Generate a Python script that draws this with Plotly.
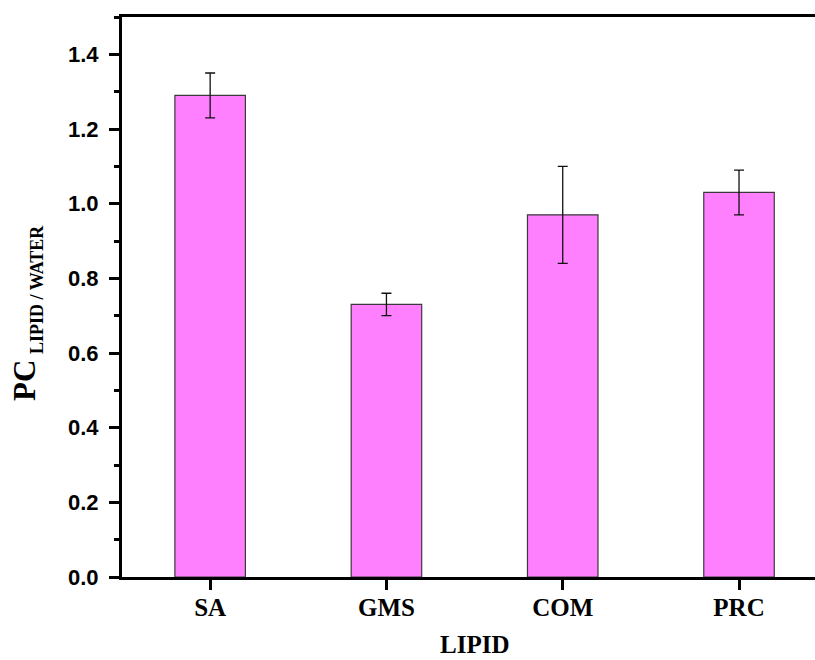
import plotly.graph_objects as go

# Partition coefficient of the drug between each lipid and water
lipids = ["SA", "GMS", "COM", "PRC"]
pc_values = [1.29, 0.73, 0.97, 1.03]
pc_errors = [0.06, 0.03, 0.13, 0.06]

y_tick_vals = [0.0, 0.2, 0.4, 0.6, 0.8, 1.0, 1.2, 1.4]

serif = "Liberation Serif, Times New Roman, serif"
sans = "Liberation Sans, Arial, sans-serif"

fig = go.Figure(
    go.Bar(
        x=lipids,
        y=pc_values,
        width=0.4,
        marker=dict(color="#FF80FF", line=dict(color="#3a3a3a", width=1.2)),
        error_y=dict(type="data", array=pc_errors, visible=True,
                     color="#111111", thickness=1.3, width=5),
    )
)

fig.update_layout(
    width=815,
    height=660,
    margin=dict(l=122, r=0, t=17, b=83),
    paper_bgcolor="white",
    plot_bgcolor="white",
    showlegend=False,
    xaxis=dict(
        type="category",
        range=[-0.5, 3.431],
        showline=True, linecolor="black", linewidth=3, mirror=True,
        ticks="outside", ticklen=10, tickwidth=3, tickcolor="black",
        tickfont=dict(family=serif, size=25, color="black", weight="bold"),
        ticklabelstandoff=-4,
        showgrid=False, zeroline=False,
    ),
    yaxis=dict(
        range=[0, 1.5],
        tickvals=y_tick_vals,
        tickformat=".1f",
        showline=True, linecolor="black", linewidth=3,
        ticks="outside", ticklen=10, tickwidth=3, tickcolor="black",
        minor=dict(dtick=0.1, ticks="outside", ticklen=5, tickwidth=2.5,
                   tickcolor="black", showgrid=False),
        tickfont=dict(family=sans, size=22, color="black", weight="bold"),
        ticklabelstandoff=6,
        showgrid=False, zeroline=False,
    ),
    annotations=[
        dict(text="LIPID", x=1.5, xref="x", y=644, yref="paper",
             showarrow=False, yanchor="middle", xanchor="center",
             borderpad=0,
             font=dict(family=serif, size=25, color="black", weight="bold")),
        dict(text="PC", x=24, xref="paper", y=381, yref="paper",
             showarrow=False, textangle=-90,
             xanchor="center", yanchor="middle",
             font=dict(family=serif, size=31, color="black", weight="bold")),
        dict(text="LIPID / WATER", x=37, xref="paper", y=290, yref="paper",
             showarrow=False, textangle=-90,
             xanchor="center", yanchor="middle",
             font=dict(family=serif, size=18, color="black", weight="bold")),
    ],
)

# Annotation positions above are given in pixels; convert to paper fractions
plot_w = 815 - 122
plot_h = 660 - 17 - 83
for ann in fig.layout.annotations:
    if ann.yref == "paper":
        ann.y = (660 - 83 - ann.y) / plot_h
    if ann.xref == "paper":
        ann.x = (ann.x - 122) / plot_w

fig.write_html("out.html")
